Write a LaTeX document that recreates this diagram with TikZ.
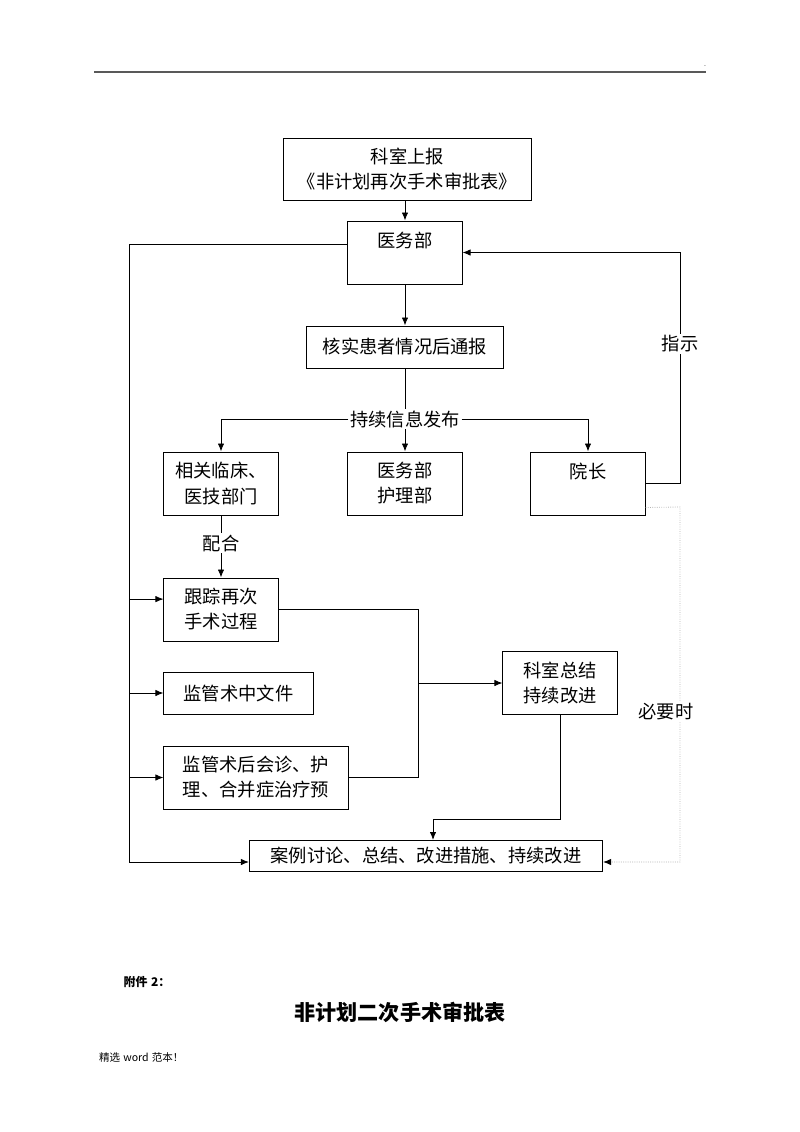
\documentclass[tikz,border=0pt]{standalone}
\usepackage{fontspec}
\setmainfont{Noto Sans CJK SC}
\usepackage{tikz}
\usetikzlibrary{arrows, arrows.meta}
\tikzset{box/.style = {draw, line width=0.7pt, align=center, inner sep=0pt}}
\tikzset{sq/.style = {box, minimum width=2.85cm, minimum height=1.575cm}}
\tikzset{arr/.style = {-{Latex[length=2mm, width=1.6mm]}}}
\tikzset{tag/.style = {fill=white, inner sep=1pt}}
\tikzset{dots/.style = {densely dotted, gray!60, -{Latex[length=2mm, width=1.6mm, color=black]}}}

\begin{document}
\begin{tikzpicture}[x=0.025cm, y=-0.025cm, line width=0.6pt, font=\fontsize{13}{17.8}\selectfont]

\useasboundingbox (0,0) rectangle (800,1132);
\draw[line width=1pt, gray!70!black] (94,72) -- (706,72);
\node[font=\tiny] (dot) at (705,66) {.};

\node[box, minimum width=6.175cm, minimum height=1.55cm] (rep) at (407.5,169) {科室上报\\《非计划再次手术审批表》};
\node[sq] (yw) at (405,252.5) {医务部\\\phantom{医}};
\node[box, minimum width=4.925cm, minimum height=1.05cm] (hs) at (405,347) {核实患者情况后通报};
\foreach \n/\x/\t in {lc/221/{相关临床、\\医技部门}, hl/405/{医务部\\护理部}, yz/588/{院长\\\phantom{院}}}
  \node[sq] (\n) at (\x,483.5) {\t};
\node[sq] (gz) at (221,609.5) {跟踪再次\\手术过程};
\node[box, minimum width=3.725cm, minimum height=1.05cm] (wj) at (238.5,693) {监管术中文件};
\node[box, minimum width=4.6cm, minimum height=1.575cm] (sh) at (256,777.5) {监管术后会诊、护\\理、合并症治疗预};
\node[sq] (ks) at (560,683) {科室总结\\持续改进};
\node[box, minimum width=8.825cm, minimum height=0.775cm] (al) at (426,856) {案例讨论、总结、改进措施、持续改进};

\node[tag] (info) at (405,419) {持续信息发布};
\node[tag] (ph) at (221,543) {配合};
\node[tag] (zs) at (680,344) {指示};

\draw[arr] (yw |- rep.south) -- (yw);
\draw[arr] (yw) -- (hs);
\draw (hs) -- (info);
\draw[arr] (info) -- (hl);
\draw[arr] (info.west) -| (lc);
\draw[arr] (info.east) -| (yz);
\draw (lc) -- (ph);
\draw[arr] (ph) -- (gz);
\draw (yz.east) -| (zs);
\draw[arr] (zs) |- (yw.east);

\coordinate (dr) at (680,507);
\draw[dots] ([yshift=2mm]yz.south east) -- (dr) |- ([yshift=-1.5mm]al.east);
\node[tag] (by) at (666,712) {必要时};

\coordinate (lx) at (129,244.5);
\draw ([yshift=2mm]yw.west) -- (lx);
\draw[arr] (lx) |- ([yshift=-1.5mm]al.west);
\foreach \n/\s in {gz/2.6mm, wj/0mm, sh/0mm} {
  \path ([yshift=\s]\n.west) coordinate (\n-in);
  \draw[arr] (\n-in -| lx) -- (\n-in);
}

\coordinate (mx) at (418,683);
\draw (gz.east) -| (mx);
\draw (sh.east) -| (mx);
\draw[arr] (mx) -- (ks);
\coordinate (kd) at (433,819);
\draw (ks) |- (kd);
\draw[arr] (kd) -- (kd |- al.north);

\node[font=\bfseries\fontsize{8.5}{10}\selectfont] (fj) at (147,982) {附件\hspace{0.3em}2：};
\node[font=\bfseries\fontsize{15}{18}\selectfont] (bt) at (400,1012) {非计划二次手术审批表};
\node[font=\fontsize{7.5}{9}\selectfont, anchor=west] (jx) at (94,1057) {精选\hspace{0.3em}word\hspace{0.3em}范本！};

\end{tikzpicture}
\end{document}
